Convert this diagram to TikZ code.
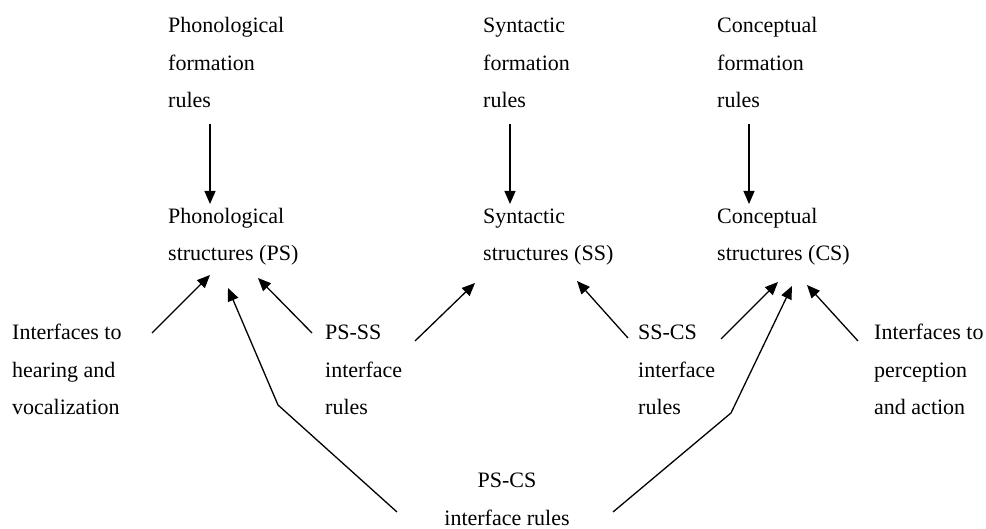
\documentclass[tikz,border=0pt]{standalone}
\usepackage{fontspec}
\setmainfont{Liberation Serif}
\usetikzlibrary{arrows.meta}
\begin{document}
\begin{tikzpicture}[x=1pt,y=-1pt,
  lbl/.style={anchor=base west, align=left, inner sep=0pt, font=\fontsize{22}{37.7}\selectfont},
  clbl/.style={anchor=base, align=center, inner sep=0pt, font=\fontsize{22}{37.7}\selectfont},
  arr/.style={-{Triangle[length=13pt,width=11pt]}, line width=1.3pt}]
\useasboundingbox (0,0) rectangle (986,529);
% formation rules (anchor: baseline of last line)
\node[lbl] (pf) at (168,108) {Phonological\\formation\\rules};
\node[lbl] (sf) at (483,108) {Syntactic\\formation\\rules};
\node[lbl] (cf) at (717,108) {Conceptual\\formation\\rules};
% structures
\node[lbl] (ps) at (168,261) {Phonological\\structures (PS)};
\node[lbl] (ss) at (483,261) {Syntactic\\structures (SS)};
\node[lbl] (cs) at (717,261) {Conceptual\\structures (CS)};
% interfaces
\node[lbl] (ihv) at (12,415) {Interfaces to\\hearing and\\vocalization};
\node[lbl] (psss) at (325,415) {PS-SS\\interface\\rules};
\node[lbl] (sscs) at (638,415) {SS-CS\\interface\\rules};
\node[lbl] (ipa) at (874,415) {Interfaces to\\perception\\and action};
\node[clbl] (pscs) at (507,525) {PS-CS\\interface rules};
% coordinates
\coordinate (pfA) at (210,124); \coordinate (psA) at (210,204);
\coordinate (sfA) at (510,124); \coordinate (ssA) at (510,204);
\coordinate (cfA) at (749,124); \coordinate (csA) at (749,204);
\coordinate (ihvA) at (152,333); \coordinate (ps1) at (210,275);
\coordinate (pssA) at (312,333); \coordinate (ps2) at (258,278);
\coordinate (pssB) at (415,341); \coordinate (ss1) at (475,283);
\coordinate (sscA) at (628,338); \coordinate (ss2) at (577,281);
\coordinate (sscB) at (721,339); \coordinate (cs1) at (778,282);
\coordinate (ipaA) at (858,341); \coordinate (cs3) at (807,285);
\coordinate (pscA) at (397,512); \coordinate (pscBend1) at (278,405); \coordinate (ps3) at (228,288);
\coordinate (pscB) at (613,512); \coordinate (pscBend2) at (731,413); \coordinate (cs2) at (792,286);
% arrows
\draw[arr] (pfA) -- (psA);
\draw[arr] (sfA) -- (ssA);
\draw[arr] (cfA) -- (csA);
\draw[arr] (ihvA) -- (ps1);
\draw[arr] (pssA) -- (ps2);
\draw[arr] (pssB) -- (ss1);
\draw[arr] (sscA) -- (ss2);
\draw[arr] (sscB) -- (cs1);
\draw[arr] (ipaA) -- (cs3);
\draw[arr] (pscA) -- (pscBend1) -- (ps3);
\draw[arr] (pscB) -- (pscBend2) -- (cs2);
\end{tikzpicture}
\end{document}
